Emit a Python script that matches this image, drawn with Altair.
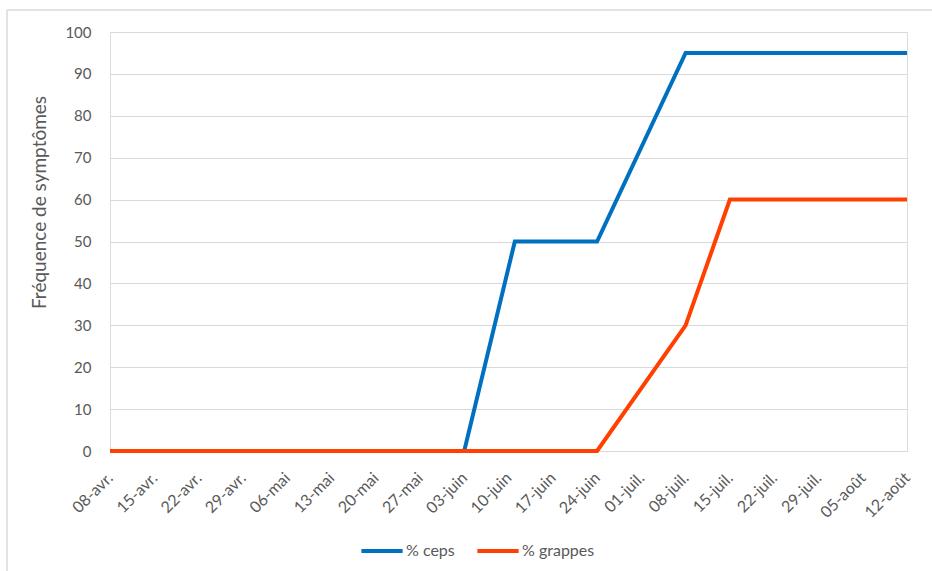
import altair as alt
import pandas as pd

# Observation days (offset in days from 08-avr.) and values
obs_day = [0, 56, 64, 77, 91, 98, 126]
ceps = [0, 0, 50, 50, 95, 95, 95]
grappes = [0, 0, 0, 0, 30, 60, 60]

tick_labels = ["08-avr.", "15-avr.", "22-avr.", "29-avr.", "06-mai", "13-mai", "20-mai",
               "27-mai", "03-juin", "10-juin", "17-juin", "24-juin", "01-juil.", "08-juil.",
               "15-juil.", "22-juil.", "29-juil.", "05-août", "12-août"]
tick_days = [7 * i for i in range(len(tick_labels))]

series_names = ["% ceps", "% grappes"]
series_colors = ["#0070C0", "#FF4000"]

rows = []
for d, c, g in zip(obs_day, ceps, grappes):
    rows.append({"day": d, "value": c, "serie": series_names[0]})
    rows.append({"day": d, "value": g, "serie": series_names[1]})
df = pd.DataFrame(rows)

label_array = "[" + ",".join("'" + s + "'" for s in tick_labels) + "]"

FONT = "Lato"
TXT = "#595959"

lines = alt.Chart(df).mark_line(strokeWidth=4, strokeCap="butt").encode(
    x=alt.X("day:Q",
            scale=alt.Scale(domain=[0, 126], nice=False, zero=False),
            axis=alt.Axis(values=tick_days, labelExpr=label_array + "[round(datum.value/7)]",
                          labelAngle=-45, labelAlign="right", labelBaseline="middle",
                          labelPadding=24, ticks=False, domain=False, grid=False,
                          title=None, labelFont=FONT, labelFontSize=16, labelColor=TXT,
                          labelOverlap=False)),
    y=alt.Y("value:Q",
            scale=alt.Scale(domain=[0, 100], nice=False),
            axis=alt.Axis(values=list(range(0, 101, 10)), ticks=False, domain=False,
                          grid=True, gridColor="#d9d9d9", gridWidth=1,
                          labelPadding=19, labelFont=FONT, labelFontSize=15, labelColor=TXT,
                          title="Fréquence de symptômes", titleFont=FONT, titleFontSize=19,
                          titleFontWeight="normal", titleColor=TXT,
                          titleX=-61, titleY=170)),
    color=alt.Color("serie:N",
                    scale=alt.Scale(domain=series_names, range=series_colors),
                    legend=alt.Legend(orient="none", direction="horizontal",
                                      legendX=249, legendY=496, title=None,
                                      symbolType="stroke", symbolSize=1700,
                                      symbolStrokeWidth=4, labelFont=FONT,
                                      labelFontSize=16, labelColor=TXT,
                                      labelOffset=1, columnPadding=14)),
)

# light frame of the chart area (decorative)
frame_left = alt.Chart().mark_rule(color="#d9d9d9", strokeWidth=1.5).encode(
    x=alt.value(-103), y=alt.value(-22), y2=alt.value(560))
frame_top = alt.Chart().mark_rule(color="#d9d9d9", strokeWidth=1.5).encode(
    x=alt.value(-103), x2=alt.value(840), y=alt.value(-22))

chart = alt.layer(frame_left, frame_top, lines).properties(
    width=797, height=419,
    autosize=alt.AutoSizeParams(type="none"),
    padding={"left": 110, "top": 32, "right": 25, "bottom": 120},
).configure_view(stroke=None).configure(background="white")

chart.save("out.html", embed_options={"renderer": "svg", "actions": False})
